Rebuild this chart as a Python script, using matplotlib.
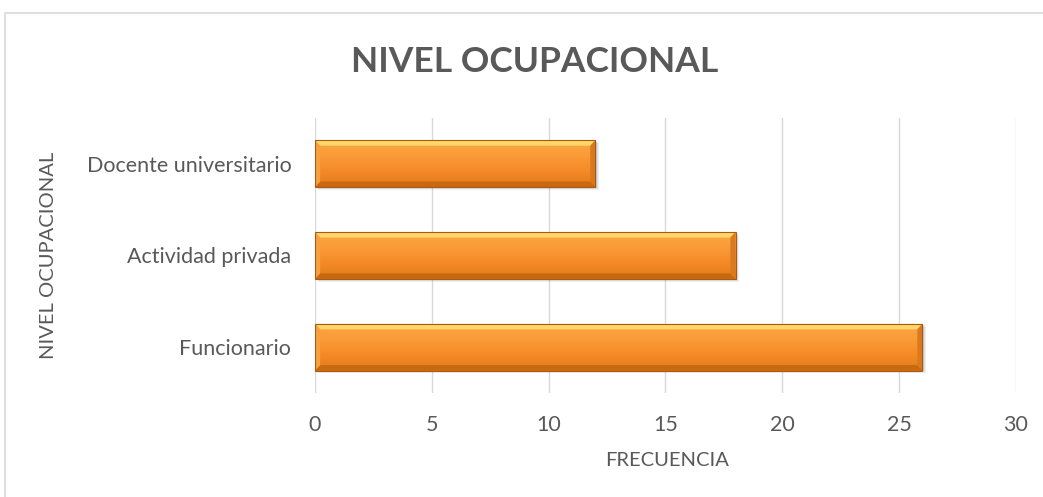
import matplotlib.pyplot as plt
import numpy as np
from matplotlib.patches import Rectangle, Polygon
from matplotlib.colors import LinearSegmentedColormap

# Data
categorias = ['Funcionario', 'Actividad privada', 'Docente universitario']
frecuencia = [26, 18, 12]

plt.rcParams['font.family'] = ['Lato', 'DejaVu Sans']
txt = '#595959'

fig = plt.figure(figsize=(10.43, 4.97), dpi=100)
ax = fig.add_axes([0.302, 0.209, 0.672, 0.554])

# outer chart border
fig.patches.append(Rectangle((5 / 1043, -0.1), 1.2, 1 - 13 / 497 + 0.1,
                             transform=fig.transFigure, fill=False,
                             edgecolor='#D9D9D9', linewidth=1.2))

h = 0.51
y = np.arange(len(categorias))
cmap = LinearSegmentedColormap.from_list('ora', ['#E07A1C', '#F48A26', '#FA9A38', '#FCA844'])
grad = np.linspace(0, 1, 64).reshape(-1, 1)

for yi, v in zip(y, frecuencia):
    # soft shadow
    for k, a in [(0.10, 0.06), (0.06, 0.08), (0.03, 0.10)]:
        ax.add_patch(Rectangle((0.05 + k, yi - h / 2 - k * 0.3), v, h, facecolor='black',
                               alpha=a, edgecolor='none', zorder=2))
    bar = ax.barh(yi, v, height=h, color='#F5902E', edgecolor='none', zorder=3)[0]
    im = ax.imshow(grad, cmap=cmap, aspect='auto', extent=[0, v, yi - h / 2, yi + h / 2],
                   origin='lower', zorder=3.1)
    im.set_clip_path(bar)
    # bevel
    dx, dy = 0.22, 0.06
    x0, x1 = 0, v
    y0, y1 = yi - h / 2, yi + h / 2
    top = [(x0, y1), (x1, y1), (x1 - dx, y1 - dy), (x0 + dx, y1 - dy)]
    bot = [(x0, y0), (x1, y0), (x1 - dx, y0 + dy), (x0 + dx, y0 + dy)]
    lef = [(x0, y0), (x0, y1), (x0 + dx, y1 - dy), (x0 + dx, y0 + dy)]
    rig = [(x1, y0), (x1, y1), (x1 - dx, y1 - dy), (x1 - dx, y0 + dy)]
    ax.add_patch(Polygon(top, closed=True, facecolor='#FFD66A', edgecolor='none', zorder=3.2))
    ax.add_patch(Polygon(bot, closed=True, facecolor='#C8680F', edgecolor='none', zorder=3.2))
    ax.add_patch(Polygon(lef, closed=True, facecolor='#F7A040', edgecolor='none', zorder=3.2))
    ax.add_patch(Polygon(rig, closed=True, facecolor='#DA7A1E', edgecolor='none', zorder=3.2))
    ax.add_patch(Rectangle((x0, y0), v, h, fill=False, edgecolor='#A85A12', linewidth=0.8, zorder=3.3))

ax.set_xlim(0, 30)
ax.set_ylim(-0.5, 2.5)
ax.set_xticks(range(0, 31, 5))
ax.set_yticks(y)
ax.set_yticklabels(categorias)
ax.tick_params(axis='both', length=0, labelsize=15.5, colors=txt)
ax.tick_params(axis='x', pad=16)
ax.tick_params(axis='y', pad=17)
ax.grid(axis='x', color='#D9D9D9', linewidth=1, zorder=0)
ax.set_axisbelow(True)
for s in ax.spines.values():
    s.set_visible(False)

ax.set_xlabel('FRECUENCIA', fontsize=14.5, color=txt)
ax.set_ylabel('NIVEL OCUPACIONAL', fontsize=14.5, color=txt)
ax.xaxis.set_label_coords((667 - 315) / 701, -(460 - 393) / 275)
ax.yaxis.set_label_coords(-(315 - 48) / 701, 0.5)
ax.xaxis.label.set_va('center')
ax.yaxis.label.set_va('center')
fig.text(535 / 1043, 1 - 62 / 497, 'NIVEL OCUPACIONAL', ha='center', va='center',
         fontsize=25.5, fontweight='bold', color=txt)

fig.savefig('out.png', dpi=100)
